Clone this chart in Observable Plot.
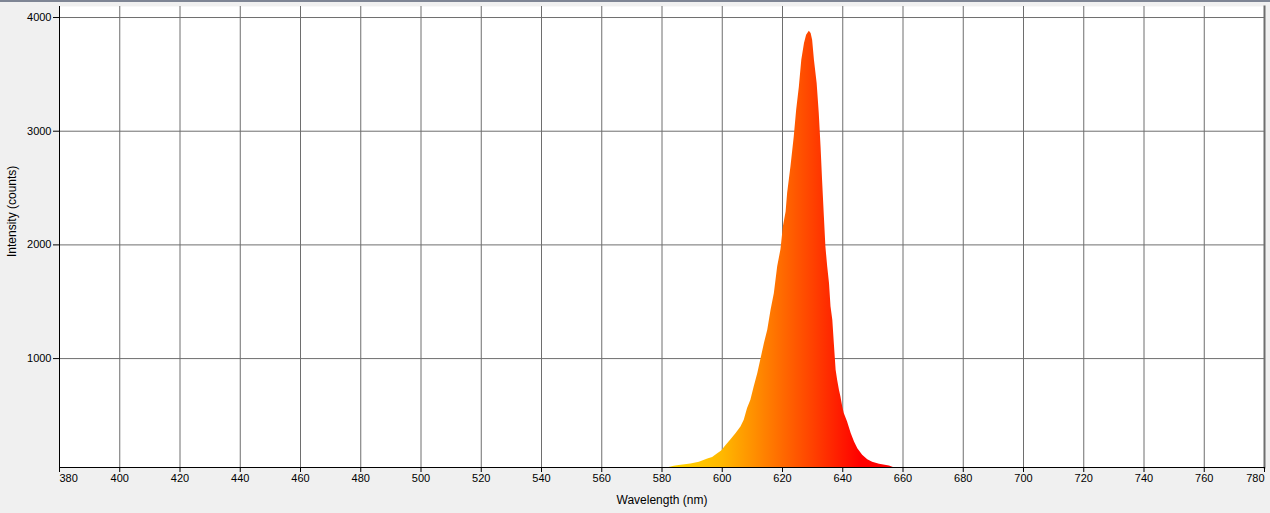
<!DOCTYPE html>
<html><head><meta charset="utf-8">
<script src="https://cdn.jsdelivr.net/npm/d3@7"></script>
<script src="https://cdn.jsdelivr.net/npm/@observablehq/plot@0.6"></script>
<style>
html,body{margin:0;padding:0;background:#f0f0f0;overflow:hidden}
#chart{position:relative}
#chart svg{display:block}
#topline{position:absolute;left:0;top:0;width:1270px;height:2px;background:#7e8594}
</style></head><body>
<div id="chart"></div><div id="topline"></div>
<script>
const wavelengths = [582, 584.1, 585.7, 589.6, 592.4, 595.2, 596.8, 598.5, 599.8, 601.2, 602.9, 604.6, 606.2, 607.3, 608.4, 609.5, 610.6, 611.8, 612.9, 614.0, 615.1, 616.2, 617.3, 618.4, 619.5, 620.3, 621.2, 621.7, 622.8, 623.9, 624.7, 625.6, 626.4, 627.3, 628.0, 628.9, 629.5, 630.0, 630.6, 631.5, 632.2, 632.8, 633.3, 633.9, 634.4, 635.0, 635.6, 636.1, 636.7, 637.2, 637.8, 638.3, 638.9, 639.4, 640.0, 640.5, 641.6, 642.8, 643.9, 645.0, 646.6, 648.3, 649.9, 652.2, 655.5, 657];
const intensities = [40, 53, 59, 73, 88, 117, 129, 164, 188, 234, 287, 340, 399, 457, 560, 633, 751, 868, 1000, 1132, 1249, 1425, 1572, 1807, 1960, 2159, 2290, 2452, 2686, 2950, 3185, 3390, 3625, 3772, 3845, 3880, 3860, 3801, 3625, 3420, 3156, 2862, 2569, 2247, 1983, 1807, 1660, 1455, 1337, 1132, 897, 809, 721, 663, 575, 516, 443, 340, 267, 208, 149, 111, 88, 70, 56, 40];
const xTicks = d3.range(400, 761, 20);
const xFirstTick = [380];
const xLastTick = [780];
const gridXValues = d3.range(400, 761, 20);
const yTicks = [1000, 2000, 3000, 4000];
const xDomain = [380, 780];
const yDomain = [42, 4097];
const stopWavelengths = [585, 600, 610, 620, 630, 640, 646];
const stopColors = ["#ffd400", "#ffb800", "#ff9200", "#ff6a00", "#ff4200", "#ff1800", "#ff0000"];
const xLabel = "Wavelength (nm)";
const yLabel = "Intensity (counts)";

const data = wavelengths.map((w, i) => ({w, v: intensities[i]}));

function gradientDefs(index, scales) {
  const ns = "http://www.w3.org/2000/svg";
  const defs = document.createElementNS(ns, "defs");
  const lg = document.createElementNS(ns, "linearGradient");
  lg.setAttribute("id", "spectrumFill");
  lg.setAttribute("gradientUnits", "userSpaceOnUse");
  const a = stopWavelengths[0], b = stopWavelengths[stopWavelengths.length - 1];
  lg.setAttribute("x1", scales.x(a));
  lg.setAttribute("x2", scales.x(b));
  lg.setAttribute("y1", 0);
  lg.setAttribute("y2", 0);
  stopWavelengths.forEach((w, i) => {
    const s = document.createElementNS(ns, "stop");
    s.setAttribute("offset", (w - a) / (b - a));
    s.setAttribute("stop-color", stopColors[i]);
    lg.appendChild(s);
  });
  defs.appendChild(lg);
  return defs;
}

const fmt = d3.format("d");
const chart = Plot.plot({
  width: 1270, height: 513,
  marginLeft: 59, marginRight: 6, marginTop: 6, marginBottom: 46,
  style: {background: "#f0f0f0", fontFamily: "'Liberation Sans', Arial, sans-serif", fontSize: "11px", color: "black"},
  x: {domain: xDomain},
  y: {domain: yDomain},
  marks: [
    Plot.frame({fill: "white", stroke: "none"}),
    gradientDefs,
    Plot.gridX(gridXValues, {stroke: "#6e6e6e", strokeOpacity: 1}),
    Plot.gridY(yTicks, {stroke: "#6e6e6e", strokeOpacity: 1}),
    Plot.areaY(data, {x: "w", y: "v", fill: "url(#spectrumFill)", clip: true}),
    Plot.frame({anchor: "right", stroke: "#6e6e6e", strokeWidth: 2}),
    Plot.axisX(xTicks, {tickSize: 5, tickPadding: 2, label: null, tickFormat: fmt}),
    Plot.axisX(xFirstTick, {tickSize: 5, tickPadding: 2, label: null, tickFormat: fmt, textAnchor: "start"}),
    Plot.axisX(xLastTick, {tickSize: 5, tickPadding: 2, label: null, tickFormat: fmt, textAnchor: "end"}),
    Plot.axisY(yTicks, {tickSize: 6, tickPadding: 2, label: null, tickFormat: fmt}),
    Plot.frame({anchor: "left", stroke: "black"}),
    Plot.frame({anchor: "bottom", stroke: "black"}),
    Plot.text([xLabel], {text: d => d, frameAnchor: "bottom", dy: 33, fontSize: 12, lineAnchor: "middle"}),
    Plot.text([yLabel], {text: d => d, frameAnchor: "left", dx: -47, dy: 20, rotate: -90, fontSize: 12, lineAnchor: "middle"})
  ]
});
document.getElementById("chart").appendChild(chart);
</script>
</body></html>
